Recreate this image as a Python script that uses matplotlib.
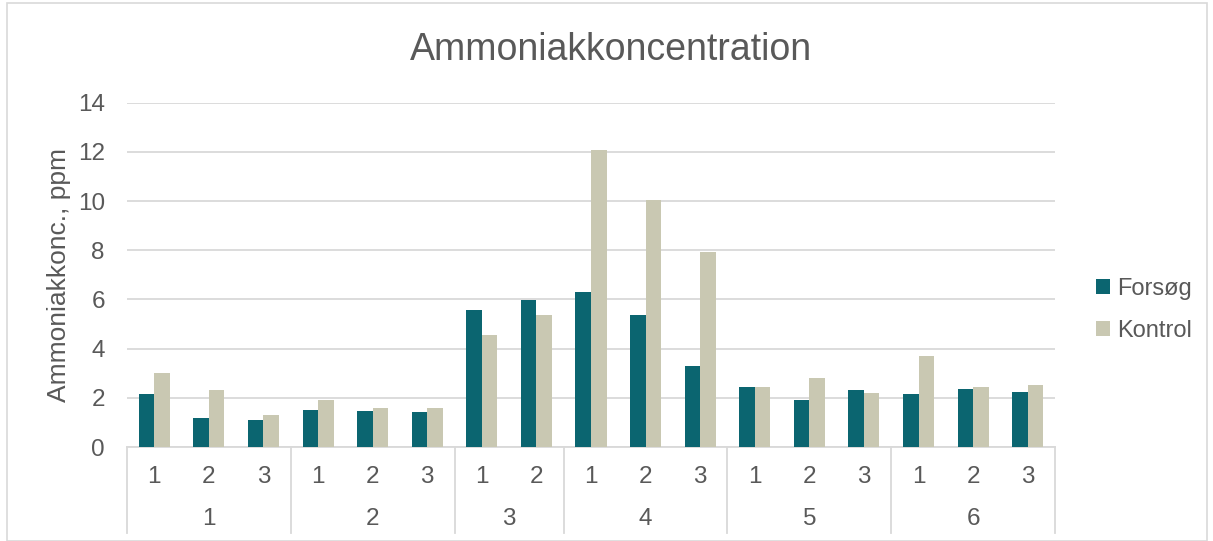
import matplotlib
matplotlib.use("Agg")
import matplotlib.pyplot as plt
from matplotlib.patches import Rectangle
from matplotlib.lines import Line2D
import numpy as np

plt.rcParams['font.family'] = ['Liberation Sans', 'DejaVu Sans']

groups = ["1", "2", "3", "4", "5", "6"]
group_sizes = [3, 3, 2, 3, 3, 3]
sub_labels = ["1", "2", "3", "1", "2", "3", "1", "2", "1", "2", "3",
              "1", "2", "3", "1", "2", "3"]
forsog = [2.17, 1.18, 1.11, 1.51, 1.47, 1.43, 5.56, 5.96, 6.32, 5.36, 3.28,
          2.43, 1.90, 2.30, 2.14, 2.36, 2.25]
kontrol = [2.99, 2.31, 1.32, 1.90, 1.57, 1.60, 4.55, 5.36, 12.07, 10.04, 7.91,
           2.43, 2.80, 2.21, 3.69, 2.42, 2.52]

teal = "#0B6570"
khaki = "#C9C8B2"
txt = "#595959"
grid = "#D9D9D9"

W, H = 1213, 541
fig = plt.figure(figsize=(W / 100, H / 100), dpi=100)
ax = fig.add_axes([127 / W, 1 - 447 / H, (1055 - 127) / W, (447 - 102.7) / H])

x = np.arange(len(sub_labels))
bw = 0.285
ax.bar(x - bw / 2, forsog, width=bw, color=teal, label="Forsøg", zorder=3)
ax.bar(x + bw / 2, kontrol, width=bw, color=khaki, label="Kontrol", zorder=3)

ax.set_xlim(-0.5, len(sub_labels) - 0.5)
ax.set_ylim(0, 14)
ax.set_yticks(np.arange(0, 15, 2))
ax.yaxis.grid(True, color=grid, linewidth=1.3, zorder=0)
ax.set_axisbelow(True)
for s in ["top", "right", "left"]:
    ax.spines[s].set_visible(False)
ax.spines["bottom"].set_color(grid)
ax.spines["bottom"].set_linewidth(1.3)
ax.tick_params(axis="y", length=0, labelsize=17.5, labelcolor=txt, pad=16)
ax.tick_params(axis="x", length=0, labelsize=17.5, labelcolor=txt, pad=14)
ax.set_xticks(x)
ax.set_xticklabels(sub_labels)
ax.set_ylabel("Ammoniakkonc., ppm", fontsize=19, color=txt, labelpad=5)

# multi-level category axis
trans = ax.get_xaxis_transform()
px = 1 / ((447 - 102.7))
bounds = np.concatenate([[0], np.cumsum(group_sizes)]) - 0.5
for b in bounds:
    ax.add_line(Line2D([b, b], [0, -86 * px], transform=trans, color=grid,
                       linewidth=1.3, clip_on=False))
for i, g in enumerate(groups):
    c = (bounds[i] + bounds[i + 1]) / 2
    ax.text(c, -72 * px, g, transform=trans, ha="center", va="center",
            fontsize=17.5, color=txt)

fig.suptitle("Ammoniakkoncentration", x=611 / W, y=1 - 50 / H, va="center",
             fontsize=27, color=txt)

leg = ax.legend(loc="center left", bbox_to_anchor=(1096 / W, 1 - 310 / H),
                bbox_transform=fig.transFigure, frameon=False, fontsize=17,
                labelcolor=txt, handlelength=0.6, handleheight=0.6,
                handletextpad=0.3, labelspacing=0.85, borderpad=0,
                borderaxespad=0)

fig.patches.append(Rectangle((7 / W, 0), (1207 - 7) / W, 1 - 3 / H,
                             transform=fig.transFigure, fill=False,
                             edgecolor=grid, linewidth=1.2))

fig.savefig("out.png", dpi=100, facecolor="white")
